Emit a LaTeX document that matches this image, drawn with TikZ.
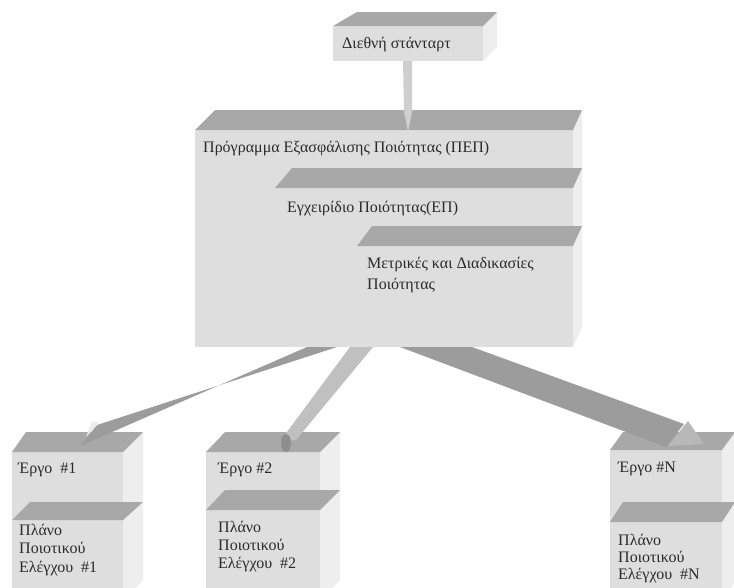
\documentclass[tikz,border=0pt]{standalone}
\usepackage{fontspec}
\setmainfont{Liberation Serif}
\definecolor{frontc}{HTML}{DEDEDE}
\definecolor{topc}{HTML}{A8A8A8}
\definecolor{sidec}{HTML}{EEEEEE}
\definecolor{arrdark}{HTML}{9C9C9C}
\definecolor{arrlight}{HTML}{C0C0C0}
\definecolor{arrtop}{HTML}{CFCFCF}
\definecolor{headc}{HTML}{B8B8B8}
\definecolor{blobc}{HTML}{8E8E8E}
\definecolor{txt}{HTML}{2A2A2A}
\tikzset{
  lbl/.style={anchor=base west, inner sep=0pt, font=\fontsize{16}{18}\selectfont, text=txt},
}
% x1 y1 x2 y2 dxl dxr dy(up)
\newcommand\cuboid[7]{%
  \fill[sidec] (#3,#2) -- (#3+#6,#2-#7) -- (#3+#6,#4-#7) -- (#3,#4) -- cycle;
  \fill[frontc] (#1,#2) rectangle (#3,#4);
  \fill[topc] (#1,#2) -- (#3,#2) -- (#3+#6,#2-#7) -- (#1+#5,#2-#7) -- cycle;
}
% xl xr yfront yback dxl dxr
\newcommand\shelfband[6]{%
  \fill[topc] (#1,#3) -- (#2,#3) -- (#2+#6,#4) -- (#1+#5,#4) -- cycle;
}
\begin{document}
\begin{tikzpicture}[x=1pt,y=-1pt]
\useasboundingbox (0,0) rectangle (734,587);
\clip (0,0) rectangle (734,587);
\fill[white] (0,0) rectangle (734,587);

% top box
\cuboid{333}{26}{483}{61}{24}{14}{14}
% main box
\cuboid{195}{130}{573}{347}{20}{9}{20}
\shelfband{275}{573}{188}{168}{17}{9}
\shelfband{357}{573}{246}{226}{15}{9}
% bottom boxes
\cuboid{12}{452}{123}{600}{14}{20}{20}
\shelfband{12}{123}{520}{502}{18}{20}
\cuboid{206}{452}{320}{600}{19}{20}{20}
\shelfband{206}{320}{510}{490}{19}{20}
\cuboid{610}{450}{722}{600}{13}{13}{18}
\shelfband{610}{722}{522}{502}{13}{13}

% named anchor coordinates
\coordinate (stdB) at (408,61);
\coordinate (pepT) at (408,132);
\coordinate (e1T) at (80,446);
\coordinate (e2T) at (286,443);

% arrows
\fill[arrtop] (403,61) -- (412,61) -- (412,112) -- (pepT) -- (404,112) -- cycle;
\fill[arrdark] (307,347) -- (337,347) -- (97,425) -- (e1T) -- cycle;
\fill[white!85!gray] (92,421) -- (99,423) -- (86,437) -- cycle;
\fill[arrlight] (350,347) -- (373,347) -- (296,440) -- (281,440) -- cycle;
\fill[blobc] (e2T) ellipse [x radius=5, y radius=9];
\fill[arrdark] (400,347) -- (472,347) -- (684,424) -- (666,447) -- cycle;
\fill[headc] (688,421) -- (704,444) -- (668,446) -- cycle;

% texts
\node[lbl] (std) at (342,48.5) {Διεθνή στάνταρτ};
\node[lbl] (pep) at (203,152) {Πρόγραμμα Εξασφάλισης Ποιότητας (ΠΕΠ)};
\node[lbl] (ep) at (287,212) {Εγχειρίδιο Ποιότητας(ΕΠ)};
\node[lbl] (md1) at (367,268) {Μετρικές και Διαδικασίες};
\node[lbl] (md2) at (367,289) {Ποιότητας};

\node[lbl] (e1) at (18,473) {Έργο\ \ \#1};
\node[lbl] (p1a) at (19,535) {Πλάνο};
\node[lbl] (p1b) at (19,553) {Ποιοτικού};
\node[lbl] (p1c) at (19,572) {Ελέγχου\ \ \#1};
\node[lbl] (e2) at (218,473) {Έργο \#2};
\node[lbl] (p2a) at (218,532) {Πλάνο};
\node[lbl] (p2b) at (218,550) {Ποιοτικού};
\node[lbl] (p2c) at (218,568) {Ελέγχου\ \ \#2};
\node[lbl] (eN) at (618,472) {Έργο \#N};
\node[lbl] (pNa) at (618,545) {Πλάνο};
\node[lbl] (pNb) at (618,562) {Ποιοτικού};
\node[lbl] (pNc) at (618,579) {Ελέγχου\ \ \#N};
\end{tikzpicture}
\end{document}
